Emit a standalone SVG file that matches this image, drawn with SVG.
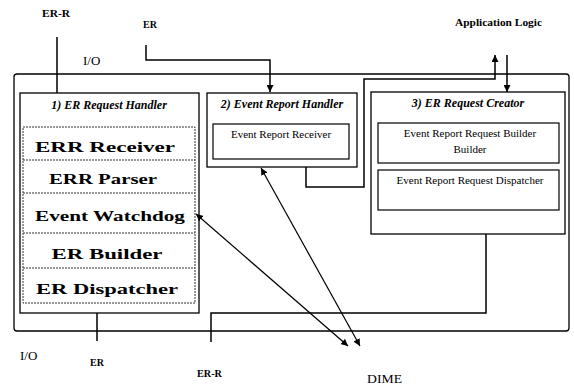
<svg xmlns="http://www.w3.org/2000/svg" width="574" height="385" viewBox="0 0 574 385">
<style>
.box{fill:none;stroke:#000;stroke-width:1.3}
.inner{fill:none;stroke:#000;stroke-width:1.2}
.dot{fill:none;stroke:#333;stroke-width:1;stroke-dasharray:2 1}
.con{fill:none;stroke:#000;stroke-width:1.5}
.diag{fill:none;stroke:#000;stroke-width:1.2}
text{font-family:'Liberation Serif','DejaVu Serif','Times New Roman',serif}
.title{font-weight:bold;font-style:italic;font-size:12px;text-anchor:middle}
.row{font-weight:bold;font-size:14px;text-anchor:middle}
.sub{font-size:11px;text-anchor:middle}
.lbl{font-weight:bold;font-size:10px}
.io{font-size:13px}
</style>
<defs>
<marker id="ah" viewBox="0 0 10 10" refX="10" refY="5" markerWidth="7" markerHeight="7" markerUnits="userSpaceOnUse" orient="auto-start-reverse">
<path d="M0,0 L10,5 L0,10 z" fill="#000"/>
</marker>
</defs>
<rect width="574" height="385" fill="#fff"/>
<g id="outer">
<rect class="box" x="14" y="74" width="555" height="257" rx="3"/>
</g>
<g id="node-er-request-handler" font-family="Liberation Serif, serif">
<rect class="box" x="20" y="93" width="179" height="220"/>
<text class="title" x="109" y="109">1) ER Request Handler</text>
<rect class="dot" x="23" y="127" width="172" height="176"/>
<line class="dot" x1="23" y1="160" x2="195" y2="160"/>
<line class="dot" x1="23" y1="193" x2="195" y2="193"/>
<line class="dot" x1="23" y1="233" x2="195" y2="233"/>
<line class="dot" x1="23" y1="268" x2="195" y2="268"/>
<text class="row" x="105" y="152" textLength="140" lengthAdjust="spacingAndGlyphs">ERR Receiver</text>
<text class="row" x="103" y="184" textLength="108" lengthAdjust="spacingAndGlyphs">ERR Parser</text>
<text class="row" x="110" y="221" textLength="150" lengthAdjust="spacingAndGlyphs">Event Watchdog</text>
<text class="row" x="107" y="259" textLength="111" lengthAdjust="spacingAndGlyphs">ER Builder</text>
<text class="row" x="107" y="294" textLength="142" lengthAdjust="spacingAndGlyphs">ER Dispatcher</text>
</g>
<g id="node-event-report-handler">
<rect class="box" x="207" y="93" width="150" height="74"/>
<text class="title" x="282" y="108">2) Event Report Handler</text>
<rect class="inner" x="213" y="124" width="136" height="35"/>
<text class="sub" x="281" y="138">Event Report Receiver</text>
</g>
<g id="node-er-request-creator">
<rect class="box" x="371" y="92" width="194" height="142"/>
<text class="title" x="468" y="107">3) ER Request Creator</text>
<rect class="inner" x="378" y="123" width="181" height="40"/>
<text class="sub" x="470" y="137">Event Report Request Builder</text>
<text class="sub" x="470" y="153">Builder</text>
<rect class="inner" x="378" y="170" width="181" height="40"/>
<text class="sub" x="470" y="184">Event Report Request Dispatcher</text>
</g>
<g id="connectors">
<line class="con" x1="57" y1="37" x2="57" y2="93"/>
<polyline class="con" points="146,45 146,60 270,60 270,92" marker-end="url(#ah)"/>
<polyline class="con" points="306,167 306,187 364,187 364,79 495,79 495,55" marker-end="url(#ah)"/>
<line class="con" x1="507" y1="55" x2="507" y2="92" marker-end="url(#ah)"/>
<line class="con" x1="97" y1="313" x2="97" y2="341"/>
<polyline class="con" points="486,234 486,313 211,313 211,342"/>
<line class="diag" x1="196" y1="214" x2="348" y2="346" marker-start="url(#ah)" marker-end="url(#ah)"/>
<line class="diag" x1="261" y1="168" x2="360" y2="346" marker-start="url(#ah)" marker-end="url(#ah)"/>
</g>
<g id="labels">
<text class="lbl" x="42" y="17" textLength="28" lengthAdjust="spacingAndGlyphs">ER-R</text>
<text class="lbl" x="143" y="28">ER</text>
<text class="io" x="83" y="65">I/O</text>
<text class="lbl" x="455" y="26" textLength="87" lengthAdjust="spacingAndGlyphs">Application Logic</text>
<text class="io" x="20" y="360">I/O</text>
<text class="lbl" x="90" y="366">ER</text>
<text class="lbl" x="197" y="377" textLength="25" lengthAdjust="spacingAndGlyphs">ER-R</text>
<text class="io" x="367" y="383" textLength="35" lengthAdjust="spacingAndGlyphs">DIME</text>
</g>
</svg>
